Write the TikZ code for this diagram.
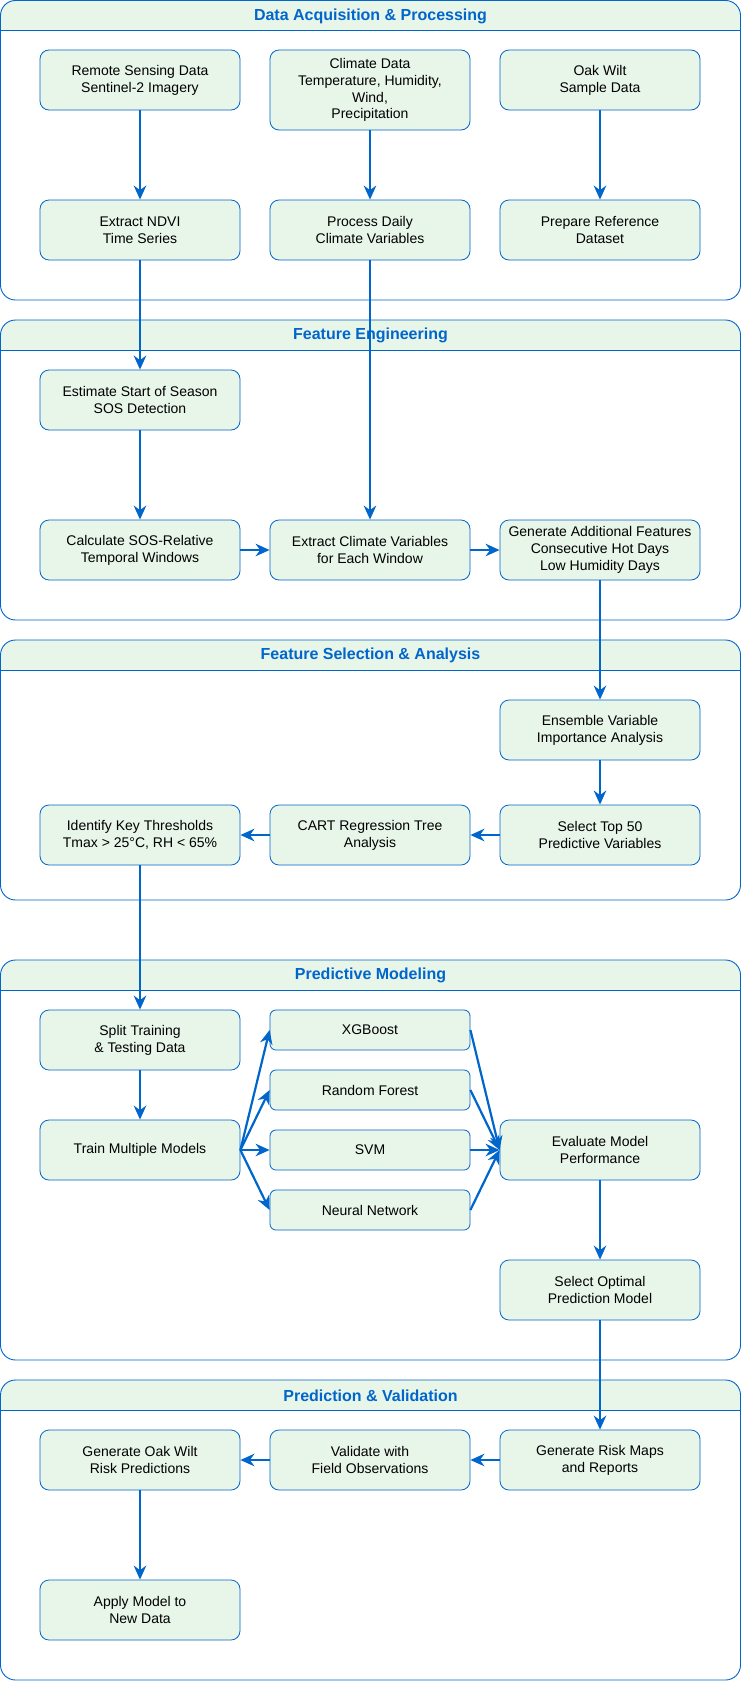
\documentclass[tikz,border=0pt]{standalone}
\usepackage{fontspec}
\setmainfont{Liberation Sans}
\usetikzlibrary{arrows.meta}
\definecolor{lblue}{HTML}{0066CC}
\definecolor{lgreen}{HTML}{E8F5E9}
\tikzset{
  box/.style={draw=lblue, line width=0.8pt, fill=lgreen, rounded corners=9pt,
    minimum width=200pt, minimum height=60pt, inner sep=0pt, align=center,
    text=black, font=\fontsize{14}{16.8}\selectfont},
  sbox/.style={box, minimum height=40pt, rounded corners=6pt},
  title/.style={text=lblue, font=\fontsize{16}{19}\selectfont\bfseries, inner sep=0pt},
  flow/.style={draw=lblue, line width=2.2pt, -{Stealth[length=14pt,width=12.5pt,inset=4.5pt]}},
}
\newcommand\mylane[3]{%
  \fill[white, rounded corners=15pt] (0.5,#1) rectangle (740.5,#2);
  \fill[lgreen, rounded corners=15pt] (0.5,#1) rectangle (740.5,#1+30);
  \fill[lgreen] (0.5,#1+15) rectangle (740.5,#1+30);
  \draw[lblue, line width=0.9pt] (0.5,#1+30) -- (740.5,#1+30);
  \draw[lblue, line width=0.9pt, rounded corners=15pt] (0.5,#1) rectangle (740.5,#2);
  \node[title] at (370.5,#1+15.5) {#3};
}
\begin{document}
\begin{tikzpicture}[x=1pt,y=-1pt]
\useasboundingbox (0,0) rectangle (741,1681);
\mylane{0.5}{300}{Data Acquisition \& Processing}
\mylane{320}{620}{Feature Engineering}
\mylane{640}{900}{Feature Selection \& Analysis}
\mylane{960}{1360}{Predictive Modeling}
\mylane{1380}{1680}{Prediction \& Validation}

\node[box] (rs) at (140,80) {Remote Sensing Data\\Sentinel-2 Imagery};
\node[box, minimum height=80pt] (cd) at (370,90) {Climate Data\\Temperature, Humidity,\\Wind,\\Precipitation};
\node[box] (ow) at (600,80) {Oak Wilt\\Sample Data};
\node[box] (ndvi) at (140,230) {Extract NDVI\\Time Series};
\node[box] (pdc) at (370,230) {Process Daily\\Climate Variables};
\node[box] (prd) at (600,230) {Prepare Reference\\Dataset};

\node[box] (sos) at (140,400) {Estimate Start of Season\\SOS Detection};
\node[box] (csr) at (140,550) {Calculate SOS-Relative\\Temporal Windows};
\node[box] (ecv) at (370,550) {Extract Climate Variables\\for Each Window};
\node[box] (gaf) at (600,550) {Generate Additional Features\\Consecutive Hot Days\\Low Humidity Days};

\node[box] (evi) at (600,730) {Ensemble Variable\\Importance Analysis};
\node[box] (st50) at (600,835) {Select Top 50\\Predictive Variables};
\node[box] (cart) at (370,835) {CART Regression Tree\\Analysis};
\node[box] (ikt) at (140,835) {Identify Key Thresholds\\Tmax > 25°C, RH < 65\%};

\node[box] (split) at (140,1040) {Split Training\\\& Testing Data};
\node[box] (train) at (140,1150) {Train Multiple Models};
\node[sbox] (xgb) at (370,1030) {XGBoost};
\node[sbox] (rf) at (370,1090) {Random Forest};
\node[sbox] (svm) at (370,1150) {SVM};
\node[sbox] (nn) at (370,1210) {Neural Network};
\node[box] (eval) at (600,1150) {Evaluate Model\\Performance};
\node[box] (sel) at (600,1290) {Select Optimal\\Prediction Model};

\node[box] (grm) at (600,1460) {Generate Risk Maps\\and Reports};
\node[box] (vfo) at (370,1460) {Validate with\\Field Observations};
\node[box] (gor) at (140,1460) {Generate Oak Wilt\\Risk Predictions};
\node[box] (apply) at (140,1610) {Apply Model to\\New Data};

\draw[flow] (rs.south) -- (ndvi.north);
\draw[flow] (cd.south) -- (pdc.north);
\draw[flow] (ow.south) -- (prd.north);
\draw[flow] (ndvi.south) -- (sos.north);
\draw[flow] (pdc.south) -- (ecv.north);
\draw[flow] (sos.south) -- (csr.north);
\draw[flow] (csr.east) -- (ecv.west);
\draw[flow] (ecv.east) -- (gaf.west);
\draw[flow] (gaf.south) -- (evi.north);
\draw[flow] (evi.south) -- (st50.north);
\draw[flow] (st50.west) -- (cart.east);
\draw[flow] (cart.west) -- (ikt.east);
\draw[flow] (ikt.south) -- (split.north);
\draw[flow] (split.south) -- (train.north);
\foreach \m in {xgb,rf,svm,nn} {
  \draw[flow] (train.east) -- (\m.west);
  \draw[flow] (\m.east) -- (eval.west);
}
\draw[flow] (eval.south) -- (sel.north);
\draw[flow] (sel.south) -- (grm.north);
\draw[flow] (grm.west) -- (vfo.east);
\draw[flow] (vfo.west) -- (gor.east);
\draw[flow] (gor.south) -- (apply.north);
\end{tikzpicture}
\end{document}
